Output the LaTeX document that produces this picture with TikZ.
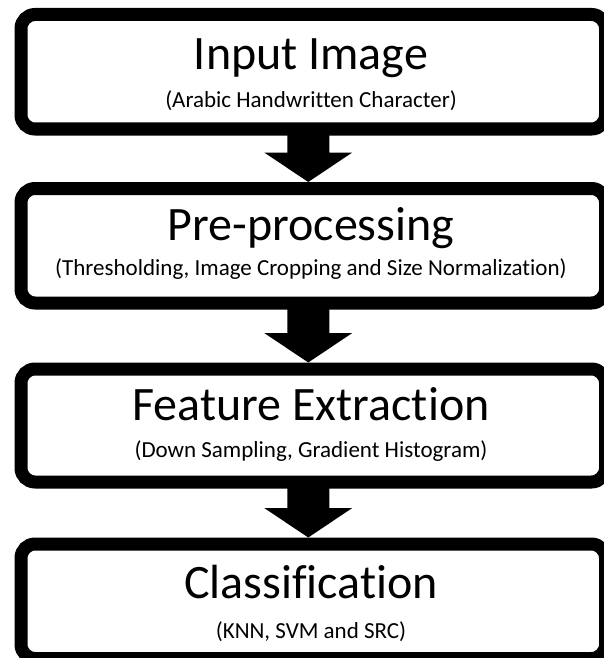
\documentclass[tikz,border=0pt]{standalone}
\usepackage{fontspec}
\setmainfont{Carlito}[Ligatures=NoCommon]
\usetikzlibrary{calc}
\begin{document}
\begin{tikzpicture}[x=1pt,y=-1pt,
  stagebox/.style={draw=black,line width=13pt,rounded corners=14pt,fill=white,
    minimum width=584.5pt,inner sep=0pt,outer sep=0pt},
  titletext/.style={anchor=base,inner sep=0pt,font=\fontsize{48}{56}\selectfont},
  subtext/.style={anchor=base,inner sep=0pt,font=\fontsize{23}{27}\selectfont},
]
\useasboundingbox (0,0) rectangle (603,658);
% boxes
\node[stagebox,minimum height=114.5pt] (b1) at (313.25,71.75) {};
\node[stagebox,minimum height=114.5pt] (b2) at (313.25,245.75) {};
\node[stagebox,minimum height=113pt]   (b3) at (313.25,425.5) {};
\node[stagebox,minimum height=114.5pt] (b4) at (313.25,601.25) {};
% texts
\node[titletext] (t1) at (311,70) {Input Image};
\node[subtext]   (s1) at (311,107) {(Arabic Handwritten Character)};
\node[titletext] (t2) at (311,240) {Pre-processing};
\node[subtext]   (s2) at (311,275) {(Thresholding, Image Cropping and Size Normalization)};
\node[titletext] (t3) at (311,420) {Feature Extraction};
\node[subtext]   (s3) at (311,457) {(Down Sampling, Gradient Histogram)};
\node[titletext] (t4) at (311,598) {Classification};
\node[subtext]   (s4) at (311,638) {(KNN, SVM and SRC)};
% block arrows
\foreach \a/\b in {b1/b2,b2/b3,b3/b4}{
  \fill[black] let \p1=([xshift=-5pt]\a.south), \p2=([xshift=-5pt]\b.north) in
    (\x1-21pt,\y1) -- (\x1+21pt,\y1) -- (\x1+21pt,\y2+36pt) -- (\x1+44pt,\y2+36pt)
    -- (\x1,\y2+6.5pt) -- (\x1-44pt,\y2+36pt) -- (\x1-21pt,\y2+36pt) -- cycle;
}
\end{tikzpicture}
\end{document}
